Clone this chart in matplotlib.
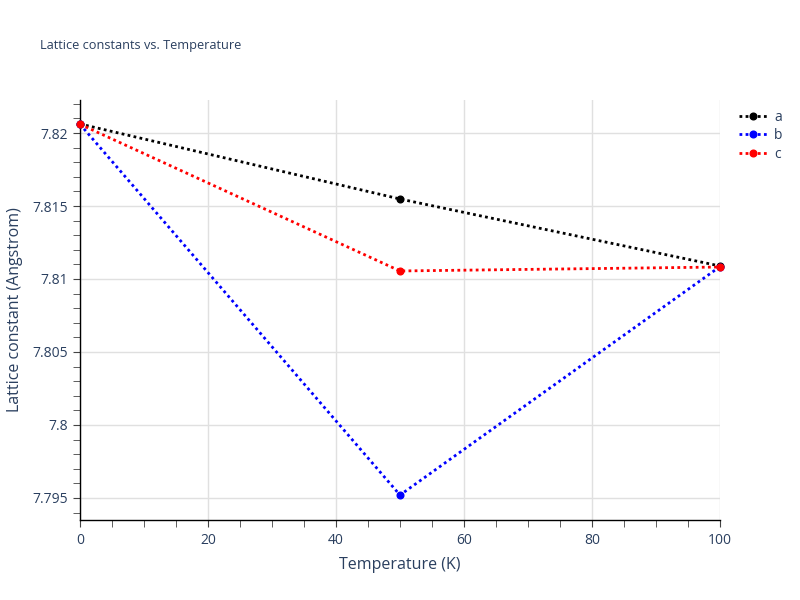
import matplotlib
matplotlib.use("Agg")
import matplotlib.pyplot as plt
from matplotlib.ticker import MultipleLocator, FuncFormatter

temperature = [0, 50, 100]
a_vals = [7.82062, 7.81548, 7.81089]
b_vals = [7.82060, 7.79520, 7.81085]
c_vals = [7.82060, 7.81055, 7.81082]
series_names = ["a", "b", "c"]
series_colors = ["black", "blue", "red"]

plt.rcParams['font.family'] = ['Open Sans', 'DejaVu Sans']
text_color = "#2a3f5f"

fig = plt.figure(figsize=(8, 6), dpi=100)
ax = fig.add_axes([0.1, 0.1333, 0.8, 0.7])

for name, vals, col in zip(series_names, [a_vals, b_vals, c_vals], series_colors):
    ax.plot(temperature, vals, linestyle=(0, (1, 1.2)), linewidth=2, color=col,
            marker='o', markersize=4.8, label=name, clip_on=False, zorder=3)

ax.set_xlim(0, 100)
ax.set_ylim(7.79349, 7.82226)
ax.xaxis.set_major_locator(MultipleLocator(20))
ax.xaxis.set_minor_locator(MultipleLocator(5))
ax.yaxis.set_major_locator(MultipleLocator(0.005))
ax.yaxis.set_minor_locator(MultipleLocator(0.001))

def yfmt(v, pos):
    s = f"{v:.3f}".rstrip('0').rstrip('.')
    return s
ax.yaxis.set_major_formatter(FuncFormatter(yfmt))

ax.grid(True, which='major', color='#e0e0e0', linewidth=1)
ax.set_axisbelow(True)
for s in ['top', 'right']:
    ax.spines[s].set_visible(False)
for s in ['left', 'bottom']:
    ax.spines[s].set_color('black')
    ax.spines[s].set_linewidth(1)

ax.tick_params(which='major', direction='out', length=5, color='#444444', labelcolor=text_color, labelsize=10)
ax.tick_params(which='minor', direction='out', length=5, color='#444444')
ax.tick_params(axis='x', pad=4)

ax.set_xlabel("Temperature (K)", color=text_color, fontsize=11.5, labelpad=7)
ax.set_ylabel("Lattice constant (Angstrom)", color=text_color, fontsize=11.5, labelpad=7)

fig.text(0.05, 0.925, "Lattice constants vs. Temperature", color=text_color, fontsize=9.2, va='center')

leg = ax.legend(loc='upper left', bbox_to_anchor=(1.015, 1.0), frameon=False,
                fontsize=10, handlelength=2.0, handletextpad=0.5, labelspacing=0.25, borderaxespad=0.3)
for t in leg.get_texts():
    t.set_color(text_color)

fig.savefig("out.png", dpi=100)
